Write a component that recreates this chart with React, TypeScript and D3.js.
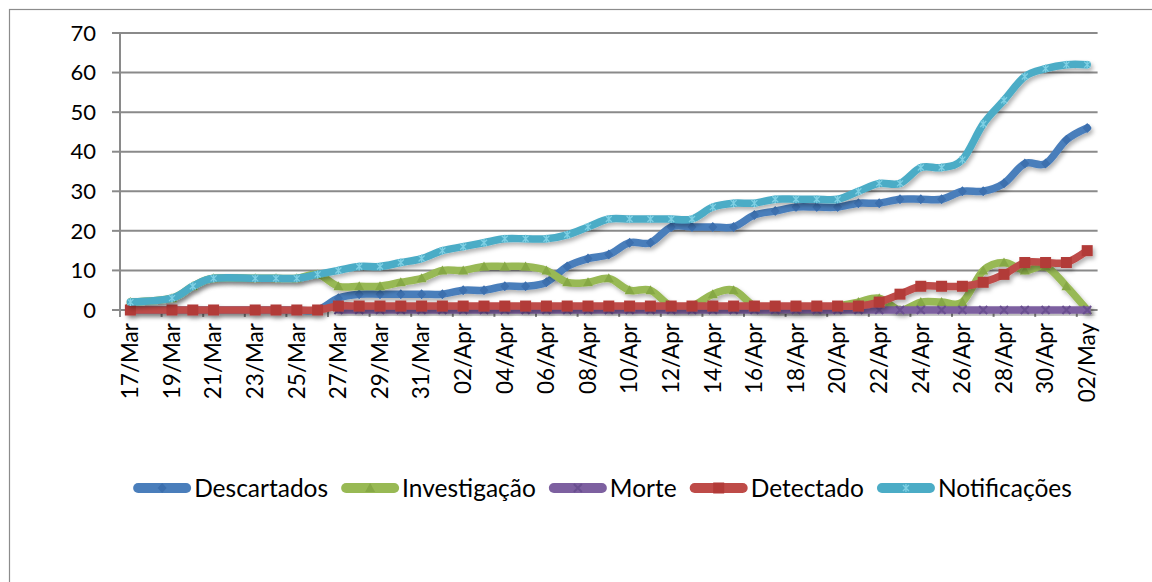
import React, { useEffect, useRef } from 'react';
import * as d3 from 'd3';

// categories: one per day, 17/Mar .. 02/May
const dates = [
  '17/Mar', '18/Mar', '19/Mar', '20/Mar', '21/Mar', '22/Mar', '23/Mar', '24/Mar', '25/Mar', '26/Mar',
  '27/Mar', '28/Mar', '29/Mar', '30/Mar', '31/Mar', '01/Apr', '02/Apr', '03/Apr', '04/Apr', '05/Apr',
  '06/Apr', '07/Apr', '08/Apr', '09/Apr', '10/Apr', '11/Apr', '12/Apr', '13/Apr', '14/Apr', '15/Apr',
  '16/Apr', '17/Apr', '18/Apr', '19/Apr', '20/Apr', '21/Apr', '22/Apr', '23/Apr', '24/Apr', '25/Apr',
  '26/Apr', '27/Apr', '28/Apr', '29/Apr', '30/Apr', '01/May', '02/May',
];

// null = no value that day (line just connects over it)
const descartados = [
  0, null, 0, 0, 0, null, 0, 0, 0, 0,
  3, 4, 4, 4, 4, 4, 5, 5, 6, 6,
  7, 11, 13, 14, 17, 17, 21, 21, 21, 21,
  24, 25, 26, 26, 26, 27, 27, 28, 28, 28,
  30, 30, 32, 37, 37, 43, 46,
];
const investigacao = [
  2, null, 3, 6, 8, null, 8, 8, 8, 9,
  6, 6, 6, 7, 8, 10, 10, 11, 11, 11,
  10, 7, 7, 8, 5, 5, 1, 1, 4, 5,
  1, 0, 0, 0, 1, 2, 3, 0, 2, 2,
  2, 10, 12, 10, 11, 6, 0,
];
const morte = [
  null, null, null, null, null, null, null, null, null, null,
  0, 0, 0, 0, 0, 0, 0, 0, 0, 0,
  0, 0, 0, 0, 0, 0, 0, 0, 0, 0,
  0, 0, 0, 0, 0, 0, 0, 0, 0, 0,
  0, 0, 0, 0, 0, 0, 0,
];
const detectado = [
  0, null, 0, 0, 0, null, 0, 0, 0, 0,
  1, 1, 1, 1, 1, 1, 1, 1, 1, 1,
  1, 1, 1, 1, 1, 1, 1, 1, 1, 1,
  1, 1, 1, 1, 1, 1, 2, 4, 6, 6,
  6, 7, 9, 12, 12, 12, 15,
];
const notificacoes = [
  2, null, 3, 6, 8, null, 8, 8, 8, 9,
  10, 11, 11, 12, 13, 15, 16, 17, 18, 18,
  18, 19, 21, 23, 23, 23, 23, 23, 26, 27,
  27, 28, 28, 28, 28, 30, 32, 32, 36, 36,
  38, 47, 53, 59, 61, 62, 62,
];

const seriesNames = ['Descartados', 'Investigação', 'Morte', 'Detectado', 'Notificações'];
const seriesValues = [descartados, investigacao, morte, detectado, notificacoes];
const yTicks = [0, 10, 20, 30, 40, 50, 60, 70];

const lineColors = ['#4a7ebb', '#98b954', '#7d60a0', '#be4b48', '#4bacc6'];
const markColors = ['#3c6fae', '#86a845', '#6a4f90', '#b23b38', '#7fd0e4'];
const markTypes = ['diamond', 'triangle', 'x', 'square', 'star'];

const W = 1152;
const H = 582;
const FONT = 'Lato, "Liberation Sans", sans-serif';

function addMarker(g: any, type: string, color: string) {
  if (type === 'diamond') {
    g.append('path').attr('d', 'M0,-5L4.5,0L0,5L-4.5,0Z').attr('fill', color);
  } else if (type === 'triangle') {
    g.append('path').attr('d', 'M0,-5L5,4L-5,4Z').attr('fill', color);
  } else if (type === 'square') {
    g.append('rect').attr('x', -5.5).attr('y', -5.5).attr('width', 11).attr('height', 11).attr('fill', color);
  } else if (type === 'x') {
    g.append('path').attr('d', 'M-4,-4L4,4M-4,4L4,-4').attr('stroke', color).attr('stroke-width', 2).attr('fill', 'none');
  } else {
    g.append('path').attr('d', 'M-3,-3L3,3M-3,3L3,-3M0,-4V4').attr('stroke', color).attr('stroke-width', 1.3).attr('fill', 'none');
  }
}

export default function App() {
  const svgRef = useRef<SVGSVGElement>(null);

  useEffect(() => {
    if (!svgRef.current) return;
    const svg = d3.select(svgRef.current);
    svg.selectAll('*').remove();

    const defs = svg.append('defs');
    const f = defs.append('filter').attr('id', 'shadow')
      .attr('x', '-10%').attr('y', '-10%').attr('width', '120%').attr('height', '130%');
    f.append('feDropShadow').attr('dx', 2).attr('dy', 3).attr('stdDeviation', 2)
      .attr('flood-color', '#000').attr('flood-opacity', 0.3);

    svg.append('rect').attr('width', W).attr('height', H).attr('fill', '#fff');
    // chart frame (runs off the right and bottom edges)
    svg.append('rect')
      .attr('x', 9.5).attr('y', 9.5).attr('width', W + 20).attr('height', H + 20)
      .attr('fill', 'none').attr('stroke', '#8c8c8c').attr('stroke-width', 1.2);

    const x = d3.scaleBand<string>().domain(dates).range([120, 1097.6]).padding(0);
    const y = d3.scaleLinear().domain([0, 70]).range([310, 33]);
    const bw = x.bandwidth();
    const cx = (i: number) => (x(dates[i]) as number) + bw / 2;

    // gridlines
    svg.append('g').selectAll('line').data(yTicks).enter().append('line')
      .attr('x1', 120).attr('x2', 1097.6)
      .attr('y1', d => y(d)).attr('y2', d => y(d))
      .attr('stroke', '#8a8a8a').attr('stroke-width', 2);

    // y axis
    const ya = svg.append('g');
    ya.append('line').attr('x1', 120).attr('x2', 120).attr('y1', y(70)).attr('y2', y(0))
      .attr('stroke', '#8a8a8a').attr('stroke-width', 2);
    ya.selectAll('line.t').data(yTicks).enter().append('line').attr('class', 't')
      .attr('x1', 112).attr('x2', 120).attr('y1', d => y(d)).attr('y2', d => y(d))
      .attr('stroke', '#8a8a8a').attr('stroke-width', 2);
    ya.selectAll('text').data(yTicks).enter().append('text')
      .attr('x', 96).attr('y', d => y(d)).attr('dy', '0.35em')
      .attr('text-anchor', 'end').attr('font-family', FONT).attr('font-size', 22).attr('fill', '#000')
      .text(d => d);

    // x axis ticks (every 2nd category boundary) and labels
    const xa = svg.append('g');
    const tickIdx = dates.map((_, i) => i).filter(i => i % 2 === 0);
    xa.selectAll('line').data(tickIdx).enter().append('line')
      .attr('x1', i => x(dates[i]) as number).attr('x2', i => x(dates[i]) as number)
      .attr('y1', y(0)).attr('y2', y(0) + 7)
      .attr('stroke', '#8a8a8a').attr('stroke-width', 2);
    xa.selectAll('text').data(tickIdx).enter().append('text')
      .attr('transform', i => `translate(${cx(i)},323) rotate(-90)`)
      .attr('dy', '0.35em').attr('text-anchor', 'end')
      .attr('font-family', FONT).attr('font-size', 22.5).attr('fill', '#000')
      .text(i => dates[i]);

    // series
    const line = d3.line<[number, number]>()
      .x(d => cx(d[0])).y(d => y(d[1]))
      .curve(d3.curveCatmullRom.alpha(0));

    seriesValues.forEach((vals, s) => {
      const pts = vals.map((v, i) => [i, v] as [number, number | null])
        .filter(p => p[1] !== null) as [number, number][];
      const g = svg.append('g').attr('filter', 'url(#shadow)');
      g.append('path').attr('d', line(pts) as string)
        .attr('fill', 'none').attr('stroke', lineColors[s]).attr('stroke-width', 7.5)
        .attr('stroke-linejoin', 'round').attr('stroke-linecap', 'round');
      pts.forEach(p => {
        const m = g.append('g').attr('transform', `translate(${cx(p[0])},${y(p[1])})`);
        addMarker(m, markTypes[s], markColors[s]);
      });
    });

    // legend
    const leg = svg.append('g');
    let off = 0;
    seriesNames.forEach((name, s) => {
      const it = leg.append('g').attr('transform', `translate(${off},0)`);
      it.append('line').attr('x1', 5).attr('x2', 53).attr('y1', 0).attr('y2', 0)
        .attr('stroke', lineColors[s]).attr('stroke-width', 10).attr('stroke-linecap', 'round');
      addMarker(it.append('g').attr('transform', 'translate(29,0)'), markTypes[s], markColors[s]);
      const t = it.append('text').attr('x', 61).attr('dy', '0.35em')
        .attr('font-family', FONT).attr('font-size', 24.5).attr('fill', '#000').text(name);
      const tw = (t.node() as SVGTextElement).getComputedTextLength();
      off += 61 + tw + 13;
    });
    off -= 13;
    leg.attr('transform', `translate(${602.5 - off / 2},488)`);
  }, []);

  return (
    <svg ref={svgRef} width={W} height={H}
      style={{ position: 'absolute', left: 0, top: 0, display: 'block' }} />
  );
}
